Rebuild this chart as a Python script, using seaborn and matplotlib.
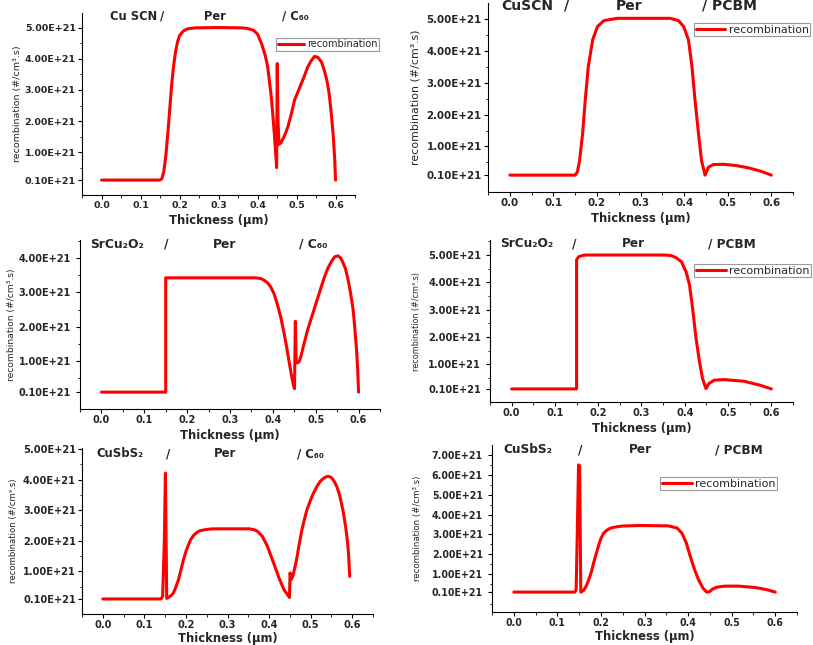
import matplotlib
matplotlib.use("Agg")
import matplotlib.pyplot as plt
from matplotlib.ticker import FixedLocator, MultipleLocator
import numpy as np
import seaborn as sns

# thickness (um) and recombination (E+21 #/cm3.s)
x_cuscn_c60 = [0.0, 0.15, 0.155, 0.16, 0.165, 0.17, 0.175, 0.18, 0.185, 0.19, 0.195, 0.2, 0.21, 0.22, 0.24,
               0.30, 0.36, 0.375, 0.39, 0.40, 0.41, 0.42, 0.426, 0.436, 0.443, 0.449, 0.4505, 0.4525, 0.455,
               0.46, 0.47, 0.478, 0.487, 0.495, 0.504, 0.512, 0.52, 0.529, 0.538, 0.546, 0.555, 0.564, 0.572,
               0.578, 0.584, 0.589, 0.594, 0.598, 0.6]
y_cuscn_c60 = [0.1, 0.1, 0.15, 0.4, 0.9, 1.6, 2.4, 3.2, 3.8, 4.25, 4.55, 4.75, 4.9, 4.97, 5.0,
               5.01, 5.0, 4.98, 4.92, 4.8, 4.5, 4.1, 3.75, 2.7, 1.6, 0.5, 3.85, 2.0, 1.25,
               1.3, 1.55, 1.82, 2.25, 2.68, 2.95, 3.2, 3.45, 3.75, 3.95, 4.08, 4.05, 3.9, 3.6,
               3.3, 2.85, 2.25, 1.55, 0.75, 0.1]

x_cuscn_pcbm = [0.0, 0.15, 0.155, 0.16, 0.167, 0.173, 0.18, 0.19, 0.201, 0.216, 0.247, 0.30, 0.368, 0.387,
                0.399, 0.41, 0.418, 0.425, 0.433, 0.44, 0.448, 0.456, 0.467, 0.49, 0.52, 0.55, 0.577, 0.6]
y_cuscn_pcbm = [0.1, 0.1, 0.2, 0.55, 1.4, 2.45, 3.5, 4.34, 4.76, 4.95, 5.02, 5.02, 5.02, 4.95,
                4.76, 4.34, 3.5, 2.45, 1.4, 0.55, 0.1, 0.35, 0.43, 0.44, 0.4, 0.32, 0.22, 0.1]

x_srcu_c60 = [0.0, 0.15, 0.15, 0.30, 0.36, 0.372, 0.38, 0.388, 0.395, 0.403, 0.411, 0.419, 0.427, 0.433,
              0.438, 0.443, 0.448, 0.4505, 0.4525, 0.4545, 0.458, 0.462, 0.466, 0.473, 0.481, 0.489, 0.497,
              0.505, 0.513, 0.52, 0.528, 0.536, 0.544, 0.552, 0.558, 0.563, 0.569, 0.575, 0.581, 0.587,
              0.591, 0.595, 0.598, 0.6]
y_srcu_c60 = [0.1, 0.1, 3.42, 3.42, 3.42, 3.4, 3.35, 3.27, 3.16, 2.95, 2.63, 2.25, 1.76, 1.35,
              0.98, 0.62, 0.3, 0.2, 2.16, 1.0, 0.95, 1.0, 1.17, 1.52, 1.9, 2.22, 2.53,
              2.85, 3.16, 3.43, 3.69, 3.88, 4.03, 4.06, 4.0, 3.88, 3.7, 3.4, 3.0, 2.53,
              2.0, 1.37, 0.75, 0.1]

x_srcu_pcbm = [0.0, 0.15, 0.15, 0.155, 0.163, 0.171, 0.25, 0.354, 0.369, 0.38, 0.392, 0.403, 0.411, 0.418,
               0.426, 0.434, 0.441, 0.449, 0.456, 0.468, 0.491, 0.537, 0.575, 0.6]
y_srcu_pcbm = [0.1, 0.1, 4.82, 4.94, 4.98, 5.0, 5.0, 5.0, 4.98, 4.9, 4.76, 4.39, 3.9, 3.05,
               1.95, 1.09, 0.48, 0.11, 0.3, 0.42, 0.44, 0.38, 0.23, 0.1]

x_cusbs_c60 = [0.0, 0.14, 0.144, 0.148, 0.1506, 0.1537, 0.158, 0.165, 0.17, 0.176, 0.182, 0.188, 0.194, 0.2,
               0.206, 0.212, 0.218, 0.226, 0.234, 0.25, 0.265, 0.353, 0.364, 0.372, 0.384, 0.396, 0.408,
               0.416, 0.424, 0.436, 0.446, 0.449, 0.4505, 0.4532, 0.457, 0.4625, 0.4675, 0.473, 0.479,
               0.485, 0.491, 0.499, 0.507, 0.515, 0.523, 0.531, 0.539, 0.545, 0.551, 0.557, 0.563, 0.569,
               0.574, 0.579, 0.584, 0.588, 0.591, 0.594]
y_cusbs_c60 = [0.1, 0.1, 0.19, 2.0, 4.21, 0.12, 0.15, 0.22, 0.3, 0.5, 0.73, 1.05, 1.38, 1.65,
               1.87, 2.05, 2.17, 2.27, 2.33, 2.37, 2.39, 2.39, 2.36, 2.31, 2.14, 1.82, 1.38,
               1.08, 0.78, 0.4, 0.21, 0.15, 0.95, 0.73, 0.84, 1.15, 1.49, 1.93, 2.36,
               2.7, 3.01, 3.3, 3.56, 3.77, 3.94, 4.04, 4.1, 4.1, 4.05, 3.93, 3.77, 3.52,
               3.23, 2.9, 2.47, 2.05, 1.6, 0.84]

x_cusbs_pcbm = [0.0, 0.14, 0.143, 0.146, 0.1485, 0.151, 0.1537, 0.16, 0.166, 0.172, 0.178, 0.183, 0.189,
                0.195, 0.2, 0.206, 0.214, 0.222, 0.235, 0.248, 0.287, 0.355, 0.375, 0.386, 0.396, 0.405,
                0.415, 0.424, 0.434, 0.443, 0.449, 0.456, 0.466, 0.485, 0.516, 0.554, 0.581, 0.6]
y_cusbs_pcbm = [0.1, 0.1, 0.22, 3.5, 6.5, 6.45, 0.1, 0.18, 0.4, 0.72, 1.12, 1.56, 2.02,
                2.48, 2.8, 3.06, 3.22, 3.32, 3.38, 3.42, 3.45, 3.43, 3.32, 3.06, 2.56, 1.89,
                1.22, 0.72, 0.3, 0.1, 0.12, 0.25, 0.35, 0.4, 0.4, 0.33, 0.22, 0.1]

x_ticks = [0.0, 0.1, 0.2, 0.3, 0.4, 0.5, 0.6]
y_ticks_5 = [0.1, 1, 2, 3, 4, 5]
y_ticks_4 = [0.1, 1, 2, 3, 4]
y_ticks_7 = [0.1, 1, 2, 3, 4, 5, 6, 7]

layers_cuscn_c60 = ["Cu SCN", "/", "Per", "/ C₆₀"]
layers_cuscn_pcbm = ["CuSCN", "/", "Per", "/ PCBM"]
layers_srcu_c60 = ["SrCu₂O₂", "/", "Per", "/ C₆₀"]
layers_srcu_pcbm = ["SrCu₂O₂", "/", "Per", "/ PCBM"]
layers_cusbs_c60 = ["CuSbS₂", "/", "Per", "/ C₆₀"]
layers_cusbs_pcbm = ["CuSbS₂", "/", "Per", "/ PCBM"]

sns.set_style("ticks")
plt.rcParams['font.family'] = ['DejaVu Sans']

panels = [
    dict(x=x_cuscn_c60, y=y_cuscn_c60, layers=layers_cuscn_c60, yt=y_ticks_5,
         rect=[0.1009, 0.6977, 0.3358, 0.2822], ylim=(-0.38, 5.48),
         lx=[0.0215, 0.149, 0.264, 0.463], ly=5.38, tfs=6.8, tpad=1.5, yfs=6.8, ypad=2.2, xpad=3,
         lfs=8.3, legfs=7.0, leg=(0.711, 0.863)),
    dict(x=x_cuscn_pcbm, y=y_cuscn_pcbm, layers=layers_cuscn_pcbm, yt=y_ticks_5,
         rect=[0.6003, 0.7023, 0.3752, 0.2930], ylim=(-0.43, 5.5),
         lx=[-0.019, 0.125, 0.244, 0.44], ly=5.41, tfs=7.35, tpad=1.5, yfs=7.9, ypad=4.0, xpad=3,
         lfs=10, legfs=7.9, leg=(0.675, 0.894)),
    dict(x=x_srcu_c60, y=y_srcu_c60, layers=layers_srcu_c60, yt=y_ticks_4,
         rect=[0.0984, 0.3659, 0.369, 0.262], ylim=(-0.39, 4.52),
         lx=[-0.027, 0.145, 0.26, 0.46], ly=4.39, tfs=7.0, tpad=3.5, yfs=6.6, ypad=2.2, xpad=3,
         lfs=8.8, legfs=None, leg=None),
    dict(x=x_srcu_pcbm, y=y_srcu_pcbm, layers=layers_srcu_pcbm, yt=y_ticks_5,
         rect=[0.6027, 0.3767, 0.3727, 0.2512], ylim=(-0.38, 5.55),
         lx=[-0.027, 0.14, 0.255, 0.453], ly=5.42, tfs=7.1, tpad=3.5, yfs=5.8, ypad=4.7, xpad=3,
         lfs=8.7, legfs=8.0, leg=(0.673, 0.852)),
    dict(x=x_cusbs_c60, y=y_cusbs_c60, layers=layers_cusbs_c60, yt=y_ticks_5,
         rect=[0.1009, 0.0481, 0.3579, 0.2574], ylim=(-0.39, 5.03),
         lx=[-0.016, 0.152, 0.268, 0.466], ly=4.84, tfs=7.1, tpad=1.5, yfs=6.1, ypad=3.6, xpad=1.0,
         lfs=8.4, legfs=None, leg=None),
    dict(x=x_cusbs_pcbm, y=y_cusbs_pcbm, layers=layers_cusbs_pcbm, yt=y_ticks_7,
         rect=[0.6052, 0.0512, 0.3752, 0.2589], ylim=(-0.9, 7.5),
         lx=[-0.023, 0.147, 0.264, 0.461], ly=7.25, tfs=6.85, tpad=3.5, yfs=6.2, ypad=6.8, xpad=1.5,
         lfs=8.7, legfs=8.0, leg=(0.551, 0.808)),
]

fig = plt.figure(figsize=(8.13, 6.45), dpi=100)

for p in panels:
    ax = fig.add_axes(p["rect"])
    lab = "recombination" if p["leg"] else None
    sns.lineplot(x=p["x"], y=p["y"], ax=ax, color="#ff0000", linewidth=2.2,
                 sort=False, estimator=None, label=lab)
    ax.set_xlim(-0.05, 0.65)
    ax.set_ylim(*p["ylim"])
    sns.despine(ax=ax)
    for s in ["left", "bottom"]:
        ax.spines[s].set_linewidth(0.8)
        ax.spines[s].set_color("black")

    ax.set_xticks(x_ticks)
    ax.set_xticklabels([f"{v:.1f}" for v in x_ticks], fontweight="bold", fontsize=p["tfs"])
    ax.xaxis.set_minor_locator(MultipleLocator(0.05))
    ax.set_yticks(p["yt"])
    ax.set_yticklabels([f"{v:.2f}E+21" for v in p["yt"]], fontweight="bold", fontsize=p["tfs"])
    ax.yaxis.set_minor_locator(FixedLocator(np.arange(-0.5, p["ylim"][1], 1.0)))
    ax.tick_params(which="major", direction="out", length=3, width=0.8, pad=1.5, color="black")
    ax.tick_params(which="minor", direction="out", length=1.8, width=0.6, color="black")
    ax.tick_params(axis="y", which="major", pad=p["tpad"])

    ax.set_xlabel("Thickness (μm)", fontweight="bold", fontsize=8.4, labelpad=p["xpad"])
    ax.set_ylabel("recombination (#/cm³.s)", fontsize=p["yfs"], labelpad=p["ypad"])

    for txt, xx in zip(p["layers"], p["lx"]):
        ax.text(xx, p["ly"], txt, fontsize=p["lfs"], fontweight="bold", ha="left", va="center")

    if p["leg"]:
        leg = ax.legend(loc="upper left", bbox_to_anchor=p["leg"], fontsize=p["legfs"],
                        handlelength=2.7, handletextpad=0.3, borderpad=0.15, borderaxespad=0,
                        frameon=True, fancybox=False, framealpha=1, edgecolor="#9a9a9a")
        leg.get_frame().set_linewidth(0.8)
    elif ax.get_legend() is not None:
        ax.get_legend().remove()

fig.savefig("out.png", dpi=100)
